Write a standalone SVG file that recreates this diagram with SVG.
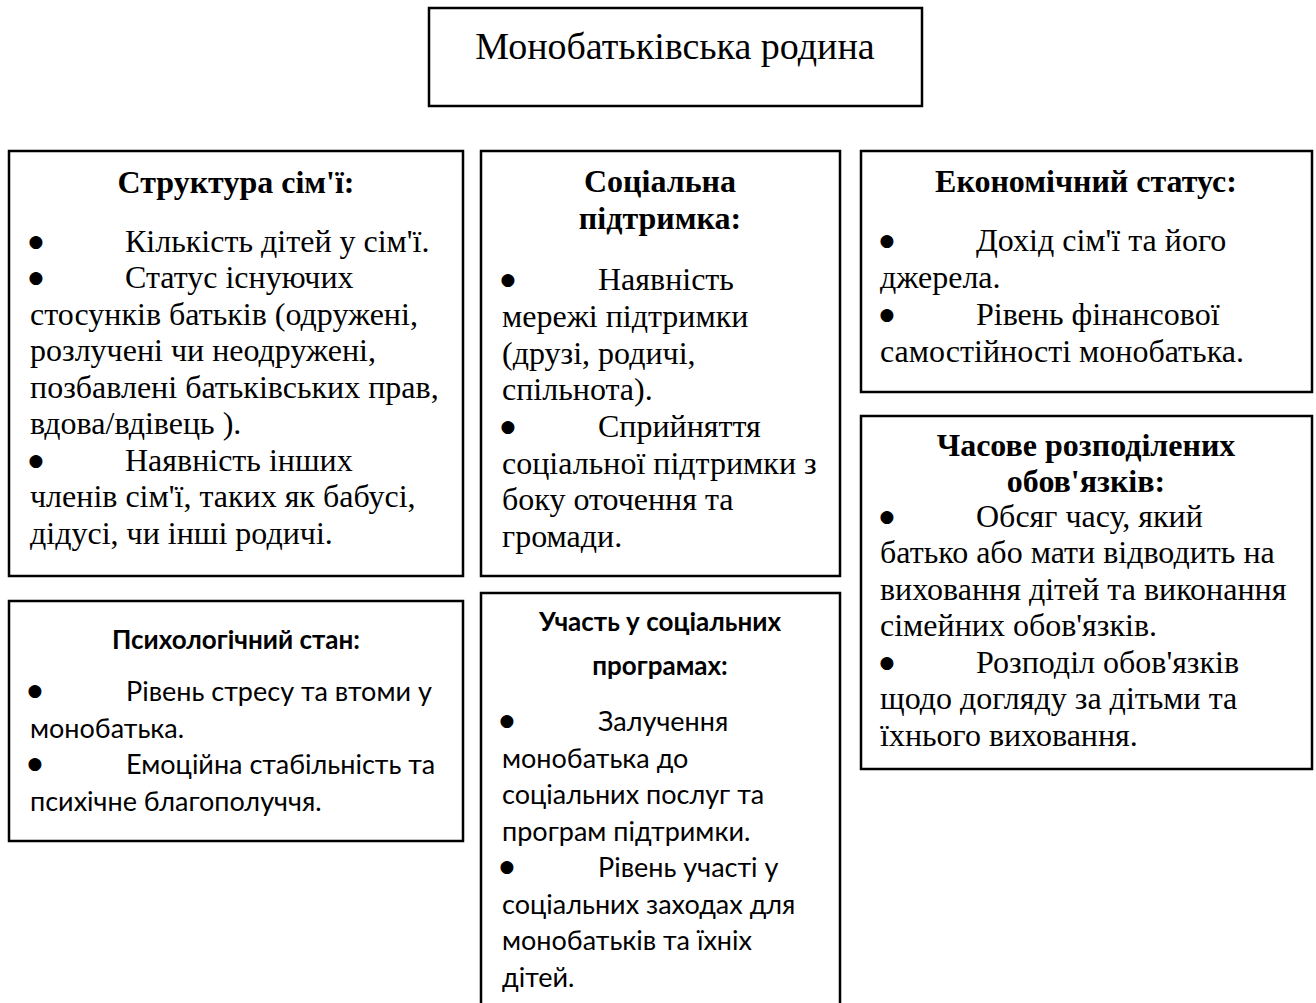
<svg xmlns="http://www.w3.org/2000/svg" width="1316" height="1003" viewBox="0 0 1316 1003">
<style>
.box{fill:#fff;stroke:#000;stroke-width:2.5}
.t{font-family:"Liberation Serif","Times New Roman",serif;font-size:32px;fill:#000}
.h{font-family:"Liberation Serif","Times New Roman",serif;font-size:32px;font-weight:bold;fill:#000;text-anchor:middle}
.b{font-family:"DejaVu Sans",sans-serif;font-size:17px;fill:#000;text-anchor:middle}
.c{font-family:Lato,"Noto Sans",sans-serif;font-size:27px;fill:#000}
.ch{font-family:Lato,"Noto Sans",sans-serif;font-size:26px;font-weight:bold;fill:#000;text-anchor:middle}
.title{font-family:"Liberation Serif","Times New Roman",serif;font-size:38px;fill:#000;text-anchor:middle}
</style>
<rect width="1316" height="1003" fill="#fff"/>
<g id="connectors"></g>
<g id="n-title">
<rect class="box" x="429" y="8" width="493" height="98"/>
<text class="title" x="675" y="59">Монобатьківська родина</text>
</g>
<g id="n-structure">
<rect class="box" x="9" y="151" width="454" height="425"/>
<text class="h" x="236" y="193">Структура сім'ї:</text>
<text class="b" x="36" y="247">●</text><text class="t" x="125" y="252">Кількість дітей у сім'ї.</text>
<text class="b" x="36" y="283">●</text><text class="t" x="125" y="288">Статус існуючих</text>
<text class="t" x="30" y="325">стосунків батьків (одружені,</text>
<text class="t" x="30" y="361">розлучені чи неодружені,</text>
<text class="t" x="30" y="398">позбавлені батьківських прав,</text>
<text class="t" x="30" y="434">вдова/вдівець ).</text>
<text class="b" x="36" y="466">●</text><text class="t" x="125" y="471">Наявність інших</text>
<text class="t" x="30" y="507">членів сім'ї, таких як бабусі,</text>
<text class="t" x="30" y="544">дідусі, чи інші родичі.</text>
</g>
<g id="n-social">
<rect class="box" x="481" y="151" width="359" height="425"/>
<text class="h" x="660" y="192">Соціальна</text>
<text class="h" x="660" y="229">підтримка:</text>
<text class="b" x="508" y="285">●</text><text class="t" x="598" y="290">Наявність</text>
<text class="t" x="502" y="327">мережі підтримки</text>
<text class="t" x="502" y="364">(друзі, родичі,</text>
<text class="t" x="502" y="400">спільнота).</text>
<text class="b" x="508" y="432">●</text><text class="t" x="598" y="437">Сприйняття</text>
<text class="t" x="502" y="474">соціальної підтримки з</text>
<text class="t" x="502" y="510">боку оточення та</text>
<text class="t" x="502" y="547">громади.</text>
</g>
<g id="n-economic">
<rect class="box" x="861" y="151" width="451" height="241"/>
<text class="h" x="1086" y="192">Економічний статус:</text>
<text class="b" x="887" y="246">●</text><text class="t" x="976" y="251">Дохід сім'ї та його</text>
<text class="t" x="880" y="288">джерела.</text>
<text class="b" x="887" y="320">●</text><text class="t" x="976" y="325">Рівень фінансової</text>
<text class="t" x="880" y="362">самостійності монобатька.</text>
</g>
<g id="n-time">
<rect class="box" x="861" y="416" width="451" height="353"/>
<text class="h" x="1086" y="456">Часове розподілених</text>
<text class="h" x="1086" y="492">обов'язків:</text>
<text class="b" x="887" y="522">●</text><text class="t" x="976" y="527">Обсяг часу, який</text>
<text class="t" x="880" y="563">батько або мати відводить на</text>
<text class="t" x="880" y="600">виховання дітей та виконання</text>
<text class="t" x="880" y="636">сімейних обов'язків.</text>
<text class="b" x="887" y="668">●</text><text class="t" x="976" y="673">Розподіл обов'язків</text>
<text class="t" x="880" y="709">щодо догляду за дітьми та</text>
<text class="t" x="880" y="746">їхнього виховання.</text>
</g>
<g id="n-psych">
<rect class="box" x="9" y="601" width="454" height="240"/>
<text class="ch" x="236" y="649">Психологічний стан:</text>
<text class="b" x="35" y="696">●</text><text class="c" x="126" y="701">Рівень стресу та втоми у</text>
<text class="c" x="30" y="738">монобатька.</text>
<text class="b" x="35" y="769">●</text><text class="c" x="126" y="774">Емоційна стабільність та</text>
<text class="c" x="30" y="811">психічне благополуччя.</text>
</g>
<g id="n-programs">
<rect class="box" x="481" y="593" width="359" height="420"/>
<text class="ch" x="660" y="631">Участь у соціальних</text>
<text class="ch" x="660" y="675">програмах:</text>
<text class="b" x="507" y="726">●</text><text class="c" x="598" y="731">Залучення</text>
<text class="c" x="502" y="768">монобатька до</text>
<text class="c" x="502" y="804">соціальних послуг та</text>
<text class="c" x="502" y="841">програм підтримки.</text>
<text class="b" x="507" y="872">●</text><text class="c" x="598" y="877">Рівень участі у</text>
<text class="c" x="502" y="914">соціальних заходах для</text>
<text class="c" x="502" y="950">монобатьків та їхніх</text>
<text class="c" x="502" y="987">дітей.</text>
</g>
</svg>
